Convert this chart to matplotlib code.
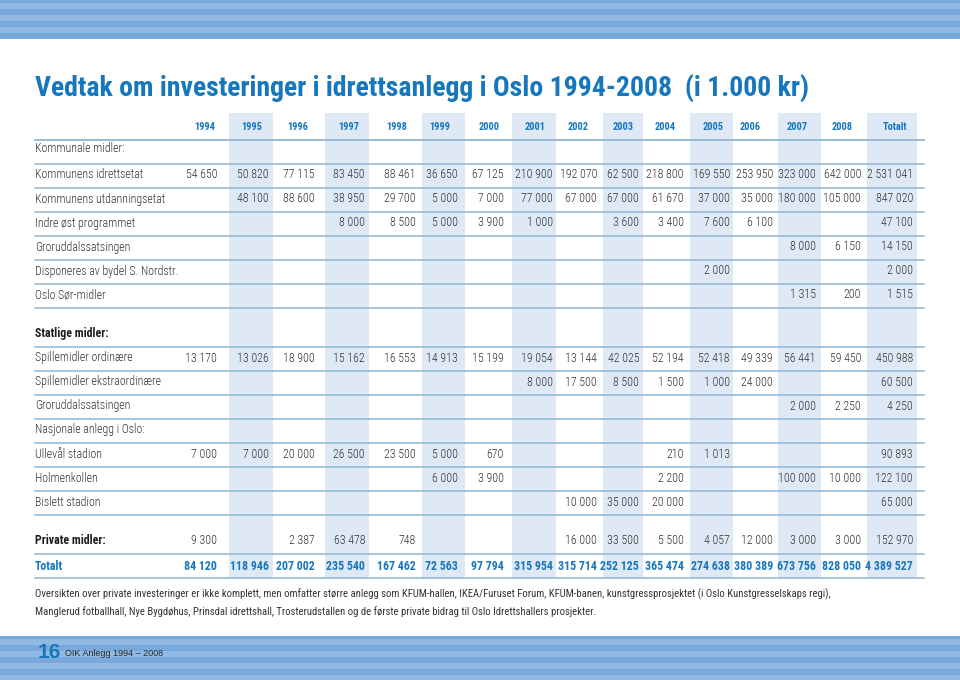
import matplotlib
matplotlib.use("Agg")
import matplotlib.pyplot as plt
from matplotlib import font_manager

# ---------------- data ----------------
title = "Vedtak om investeringer i idrettsanlegg i Oslo 1994-2008  (i 1.000 kr)"
years = ["1994", "1995", "1996", "1997", "1998", "1999", "2000", "2001",
         "2002", "2003", "2004", "2005", "2006", "2007", "2008", "Totalt"]

N = None
komm_labels = ["Kommunens idrettsetat", "Kommunens utdanningsetat", "Indre øst programmet",
               "Groruddalssatsingen", "Disponeres av bydel S. Nordstr.", "Oslo Sør-midler"]
komm_values = [
    [54650, 50820, 77115, 83450, 88461, 36650, 67125, 210900, 192070, 62500, 218800, 169550, 253950, 323000, 642000, 2531041],
    [N, 48100, 88600, 38950, 29700, 5000, 7000, 77000, 67000, 67000, 61670, 37000, 35000, 180000, 105000, 847020],
    [N, N, N, 8000, 8500, 5000, 3900, 1000, N, 3600, 3400, 7600, 6100, N, N, 47100],
    [N, N, N, N, N, N, N, N, N, N, N, N, N, 8000, 6150, 14150],
    [N, N, N, N, N, N, N, N, N, N, N, 2000, N, N, N, 2000],
    [N, N, N, N, N, N, N, N, N, N, N, N, N, 1315, 200, 1515],
]
stat_labels = ["Spillemidler ordinære", "Spillemidler ekstraordinære", "Groruddalssatsingen",
               "Nasjonale anlegg i Oslo:", "Ullevål stadion", "Holmenkollen", "Bislett stadion"]
stat_values = [
    [13170, 13026, 18900, 15162, 16553, 14913, 15199, 19054, 13144, 42025, 52194, 52418, 49339, 56441, 59450, 450988],
    [N, N, N, N, N, N, N, 8000, 17500, 8500, 1500, 1000, 24000, N, N, 60500],
    [N, N, N, N, N, N, N, N, N, N, N, N, N, 2000, 2250, 4250],
    [N] * 16,
    [7000, 7000, 20000, 26500, 23500, 5000, 670, N, N, N, 210, 1013, N, N, N, 90893],
    [N, N, N, N, N, 6000, 3900, N, N, N, 2200, N, N, 100000, 10000, 122100],
    [N, N, N, N, N, N, N, N, 10000, 35000, 20000, N, N, N, N, 65000],
]
private_values = [9300, N, 2387, 63478, 748, N, N, N, 16000, 33500, 5500, 4057, 12000, 3000, 3000, 152970]
total_values = [84120, 118946, 207002, 235540, 167462, 72563, 97794, 315954, 315714, 252125,
                365474, 274638, 380389, 673756, 828050, 4389527]

footnote = ["Oversikten over private investeringer er ikke komplett, men omfatter større anlegg som KFUM-hallen, IKEA/Furuset Forum, KFUM-banen, kunstgressprosjektet (i Oslo Kunstgresselskaps regi),",
            "Manglerud fotballhall, Nye Bygdøhus, Prinsdal idrettshall, Trosterudstallen og de første private bidrag til Oslo Idrettshallers prosjekter."]
page_no = "16"
page_text = "OIK Anlegg 1994 – 2008"

# ---------------- layout ----------------
W, H = 960, 680
col_right = [217, 269, 315, 365, 416, 458, 504, 553, 597, 639, 684, 730, 773, 816, 861, 913]
col_center = [205, 252, 298, 349, 397, 440, 489, 535, 578, 623, 665, 713, 750, 797, 842, 895]
shade_cols = [(229, 273), (325, 369), (422, 465), (512, 556), (603, 643), (690, 733), (778, 821), (867, 917)]
LX0, LX1 = 35, 924

# pick a condensed font if one is installed
avail = font_manager.fontManager.ttflist
names = {f.name for f in avail}
FAM = ["Liberation Sans", "DejaVu Sans"]
STRETCH = "normal"
for cand in ["Roboto Condensed", "Liberation Sans Narrow", "Open Sans Condensed", "Noto Sans Condensed",
             "Arial Narrow"]:
    if cand in names:
        FAM = [cand, "DejaVu Sans"]
        break
else:
    for base in ["Roboto", "Noto Sans", "Open Sans"]:
        if any(f.name == base and f.stretch in ("condensed", "semi-condensed") for f in avail):
            FAM = [base, "DejaVu Sans"]
            STRETCH = "condensed"
            break

TXT = "#333333"
BLUE = "#1677bd"
LINE = "#8fb4d1"
SHADE = "#dfe9f5"
STRIPE_D = "#79a9da"
STRIPE_L = "#90bae5"
WEIGHT = "light"


def fmt(v):
    return f"{v:,}".replace(",", " ")


fig = plt.figure(figsize=(W / 100, H / 100), dpi=100)
ax = fig.add_axes([0, 0, 1, 1])
ax.set_xlim(0, W)
ax.set_ylim(H, 0)
ax.axis("off")
renderer = fig.canvas.get_renderer()


def fit_size(s, target_w, weight="normal", max_size=30):
    t = ax.text(0, 0, s, family=FAM, fontstretch=STRETCH, fontweight=weight, fontsize=10)
    w = t.get_window_extent(renderer).width
    t.remove()
    return min(max_size, 10 * target_w / w)


fs = fit_size("2 531 041", 46, WEIGHT, max_size=9.5)
fs_title = fit_size(title, 795, "bold", max_size=20)
fs_year = 7.5
fs_foot = fit_size(footnote[0], 787, max_size=9.5)


# banners
def banner(y0, y1):
    ax.fill_between([0, W], y0, y1, color=STRIPE_D, lw=0)
    y = y0 + 3
    while y < y1:
        ax.fill_between([0, W], y, min(y + 6, y1), color=STRIPE_L, lw=0)
        y += 12


banner(0, 39)
banner(636, 680)

# shaded columns
for x0, x1 in shade_cols:
    ax.fill_between([x0, x1], 113, 578, color=SHADE, lw=0, zorder=0)

tfont = dict(family=FAM, fontstretch=STRETCH, color=TXT, fontsize=fs, fontweight=WEIGHT)

# title
ax.text(35, 88, title, family=FAM, fontstretch=STRETCH, fontweight="bold", color=BLUE,
        fontsize=fs_title, va="center", ha="left")

# header
for c, yname in zip(col_center, years):
    ax.text(c, 127, yname, family=FAM, fontstretch=STRETCH, fontweight="bold", color=BLUE,
            fontsize=fs_year, va="center", ha="center")
ax.plot([LX0, LX1], [140, 140], color=LINE, lw=1.3)


def hline(y):
    ax.plot([LX0, LX1], [y, y], color=LINE, lw=1.1)


def row(y, label, vals, bold_label=False, bold_vals=False, color=TXT, lcolor=TXT):
    kw = dict(tfont)
    kw["color"] = lcolor
    if bold_label:
        kw["fontweight"] = "bold"
    ax.text(LX0, y, label, va="center", ha="left", **kw)
    kv = dict(tfont)
    kv["color"] = color
    if bold_vals:
        kv["fontweight"] = "bold"
    for r, v in zip(col_right, vals):
        if v is not None:
            ax.text(r, y, fmt(v), va="center", ha="right", **kv)


ax.text(LX0, 149, "Kommunale midler:", va="center", ha="left", **tfont)
hline(164)
y = 164
for lab, vals in zip(komm_labels, komm_values):
    row(y + 11, lab, vals)
    y += 24
    hline(y)

ax.text(LX0, 334, "Statlige midler:", va="center", ha="left", fontweight="bold",
        family=FAM, fontstretch=STRETCH, color="#1e1e1e", fontsize=fs)
y = 347
hline(y)
for lab, vals in zip(stat_labels, stat_values):
    row(y + 11, lab, vals)
    y += 24
    hline(y)

row(541, "Private midler:", private_values, bold_label=True, lcolor="#1e1e1e")
hline(554)
row(566, "Totalt", total_values, bold_label=True, bold_vals=True, color=BLUE, lcolor=BLUE)
hline(578)

for i, line in enumerate(footnote):
    ax.text(LX0, 594 + 18 * i, line, va="center", ha="left",
            family=FAM, fontstretch=STRETCH, color=TXT, fontsize=fs_foot)

ax.text(38, 652, page_no, family=["Liberation Sans", "DejaVu Sans"], fontweight="bold",
        color=BLUE, fontsize=15, va="center", ha="left")
ax.text(65, 654, page_text, family=["Liberation Sans", "DejaVu Sans"], color="#2a2a2a",
        fontsize=6.5, va="center", ha="left")

fig.savefig("out.png", dpi=100)
